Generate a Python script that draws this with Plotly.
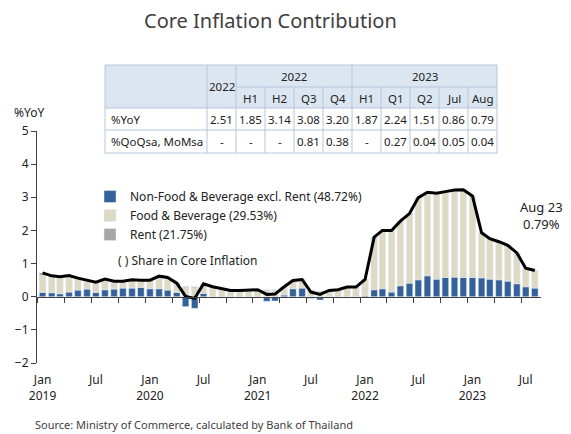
import pandas as pd
import plotly.graph_objects as go

# monthly contributions to core inflation (%YoY), Jan 2019 - Aug 2023
months = pd.date_range("2019-01-01", periods=56, freq="MS")

core_total = [0.72, 0.63, 0.60, 0.64, 0.56, 0.50, 0.44, 0.53, 0.47, 0.47, 0.51, 0.50,
              0.50, 0.62, 0.58, 0.41, 0.01, -0.05, 0.39, 0.30, 0.25, 0.19, 0.19, 0.21,
              0.21, 0.07, 0.08, 0.30, 0.49, 0.52, 0.14, 0.07, 0.19, 0.21, 0.29, 0.29,
              0.52, 1.80, 2.00, 2.00, 2.28, 2.51, 2.99, 3.15, 3.12, 3.17, 3.22, 3.23,
              3.04, 1.93, 1.75, 1.66, 1.55, 1.32, 0.86, 0.79]

non_food = [0.13, 0.12, 0.09, 0.14, 0.20, 0.23, 0.13, 0.21, 0.23, 0.26, 0.26, 0.28,
            0.24, 0.24, 0.20, 0.13, -0.30, -0.35, 0.10, 0.01, 0.00, -0.03, -0.01, -0.01,
            -0.01, -0.14, -0.13, 0.05, 0.24, 0.26, -0.05, -0.10, -0.01, 0.00, 0.00, 0.00,
            0.03, 0.21, 0.24, 0.14, 0.33, 0.41, 0.51, 0.63, 0.53, 0.58, 0.59, 0.58,
            0.58, 0.57, 0.53, 0.51, 0.47, 0.39, 0.30, 0.26]

rent = [0.08, 0.04, 0.03, 0.03, 0.03, 0.03, 0.02, 0.02, 0.02, 0.02, 0.02, 0.02,
        0.02, 0.02, 0.02, 0.03, 0.03, 0.03, 0.02, 0.02, 0.02, 0.02, 0.02, 0.02,
        0.02, 0.02, 0.02, 0.02, 0.02, 0.02, 0.02, 0.02, 0.02, 0.02, 0.02, 0.02,
        0.02, 0.02, 0.02, 0.02, 0.02, 0.02, 0.02, 0.02, 0.02, 0.02, 0.02, 0.02,
        0.02, 0.02, 0.02, 0.02, 0.02, 0.02, 0.02, 0.02]

food = [round(t - n - r, 2) for t, n, r in zip(core_total, non_food, rent)]

tick_dates = ["2019-01-01", "2019-07-01", "2020-01-01", "2020-07-01", "2021-01-01",
              "2021-07-01", "2022-01-01", "2022-07-01", "2023-01-01", "2023-07-01"]
tick_text = ["Jan<br>2019", "Jul", "Jan<br>2020", "Jul", "Jan<br>2021",
             "Jul", "Jan<br>2022", "Jul", "Jan<br>2023", "Jul"]

# summary table
tbl_periods = ["H1", "H2", "Q3", "Q4", "H1", "Q1", "Q2", "Jul", "Aug"]
tbl_rows = ["%YoY", "%QoQsa, MoMsa"]
tbl_yoy = ["2.51", "1.85", "3.14", "3.08", "3.20", "1.87", "2.24", "1.51", "0.86", "0.79"]
tbl_qoq = ["-", "-", "-", "0.81", "0.38", "-", "0.27", "0.04", "0.05", "0.04"]

FONT = "Noto Sans"
W, H = 571, 434
L, R, T, B = 37, 30, 131, 71
PW, PH = W - L - R, H - T - B


def px(x):
    return (x - L) / PW


def py(y):
    return (H - B - y) / PH


fig = go.Figure()

fig.add_bar(x=months, y=non_food, name="Non-Food & Beverage excl. Rent (48.72%)",
            marker_color="#35619a", legendgroup="a")
fig.add_bar(x=months, y=food, name="Food & Beverage (29.53%)",
            marker_color="#ddd9c4", legendgroup="b")
fig.add_bar(x=months, y=rent, name="Rent (21.75%)",
            marker_color="#a6a6a6", legendgroup="c")
fig.add_scatter(x=months, y=core_total, mode="lines", xaxis="x2",
                line=dict(color="black", width=3), showlegend=False)

x_range = ["2018-12-13", "2023-08-22"]

fig.update_layout(
    width=W, height=H,
    margin=dict(l=L, r=R, t=T, b=B),
    plot_bgcolor="white", paper_bgcolor="white",
    barmode="relative", bargap=0.2,
    font=dict(family=FONT, size=12, color="#222222"),
    xaxis=dict(type="date", range=x_range, tickvals=tick_dates, ticktext=tick_text,
               showline=False, showgrid=False, zeroline=False, ticks="",
               tickfont=dict(size=12), automargin=False, ticklabelstandoff=8),
    xaxis2=dict(type="date", range=x_range, overlaying="x", anchor="free",
                position=py(297), side="bottom", showline=True, linecolor="#404040",
                ticks="outside", ticklen=5, tickcolor="#404040", automargin=False,
                tick0="2019-03-16", dtick="M3", showticklabels=False, showgrid=False),
    yaxis=dict(range=[-2, 5], dtick=1, showgrid=False, zeroline=False,
               showline=True, linecolor="#404040", ticks="outside", ticklen=5,
               tickcolor="#404040", tickfont=dict(size=12), automargin=False),
    legend=dict(x=px(90), y=py(182), xanchor="left", yanchor="top",
                traceorder="normal", bgcolor="rgba(0,0,0,0)",
                font=dict(size=12), itemwidth=30, tracegroupgap=6),
    showlegend=True,
)

ann = []
ann.append(dict(text="Core Inflation Contribution", x=px(270), y=py(20),
                font=dict(size=20, color="#404040")))
ann.append(dict(text="%YoY", x=px(12), y=py(113), xanchor="left",
                font=dict(size=12)))
ann.append(dict(text="( ) Share in Core Inflation", x=px(116), y=py(260),
                xanchor="left", font=dict(size=12)))
ann.append(dict(text="Aug 23<br>0.79%", x=px(541), y=py(215),
                font=dict(size=13)))
ann.append(dict(text="Source: Ministry of Commerce, calculated by Bank of Thailand",
                x=px(33), y=py(424), xanchor="left", font=dict(size=11, color="#404040")))

# table geometry (pixels)
col_edges = [105, 207] + [236 + 29 * i for i in range(10)]
row_edges = [65, 87, 108, 130, 153]
line_col = "#b4c6dc"
shapes = []
shapes.append(dict(type="rect", xref="paper", yref="paper",
                   x0=px(col_edges[0]), x1=px(col_edges[-1]),
                   y0=py(row_edges[2]), y1=py(row_edges[0]),
                   fillcolor="#dce6f1", line_width=0, layer="above"))
for i, xe in enumerate(col_edges):
    top = row_edges[0]
    if xe not in (105, 207, 236, 352, col_edges[-1]):
        top = row_edges[1]
    shapes.append(dict(type="line", xref="paper", yref="paper",
                       x0=px(xe), x1=px(xe), y0=py(top), y1=py(row_edges[-1]),
                       line=dict(color=line_col, width=1), layer="above"))
for ye in row_edges:
    x0 = 236 if ye == row_edges[1] else col_edges[0]
    shapes.append(dict(type="line", xref="paper", yref="paper",
                       x0=px(x0), x1=px(col_edges[-1]), y0=py(ye), y1=py(ye),
                       line=dict(color=line_col, width=1), layer="above"))

tf = dict(size=11.5, color="#222222")
ann.append(dict(text="2022", x=px((207 + 236) / 2), y=py((65 + 108) / 2), font=tf))
ann.append(dict(text="2022", x=px((236 + 352) / 2), y=py(76), font=tf))
ann.append(dict(text="2023", x=px((352 + col_edges[-1]) / 2), y=py(76), font=tf))
for i, p in enumerate(tbl_periods):
    c = (col_edges[i + 2] + col_edges[i + 3]) / 2
    ann.append(dict(text=p, x=px(c), y=py(98), font=tf))
for j, (lab, vals) in enumerate(zip(tbl_rows, [tbl_yoy, tbl_qoq])):
    yc = (row_edges[j + 2] + row_edges[j + 3]) / 2
    ann.append(dict(text=lab, x=px(109), y=py(yc), xanchor="left", font=tf))
    for i, v in enumerate(vals):
        c = (col_edges[i + 1] + col_edges[i + 2]) / 2
        ann.append(dict(text=v, x=px(c), y=py(yc), font=tf))

for a in ann:
    a.setdefault("xref", "paper")
    a.setdefault("yref", "paper")
    a.setdefault("showarrow", False)
    a.setdefault("xanchor", "center")
    a.setdefault("yanchor", "middle")

fig.update_layout(annotations=ann, shapes=shapes)

# the page body has a default 8px margin; drop it so the figure sits at 0,0
fig.write_html("out.html", config={"displayModeBar": False},
               post_script="document.body.style.margin = '0';")
